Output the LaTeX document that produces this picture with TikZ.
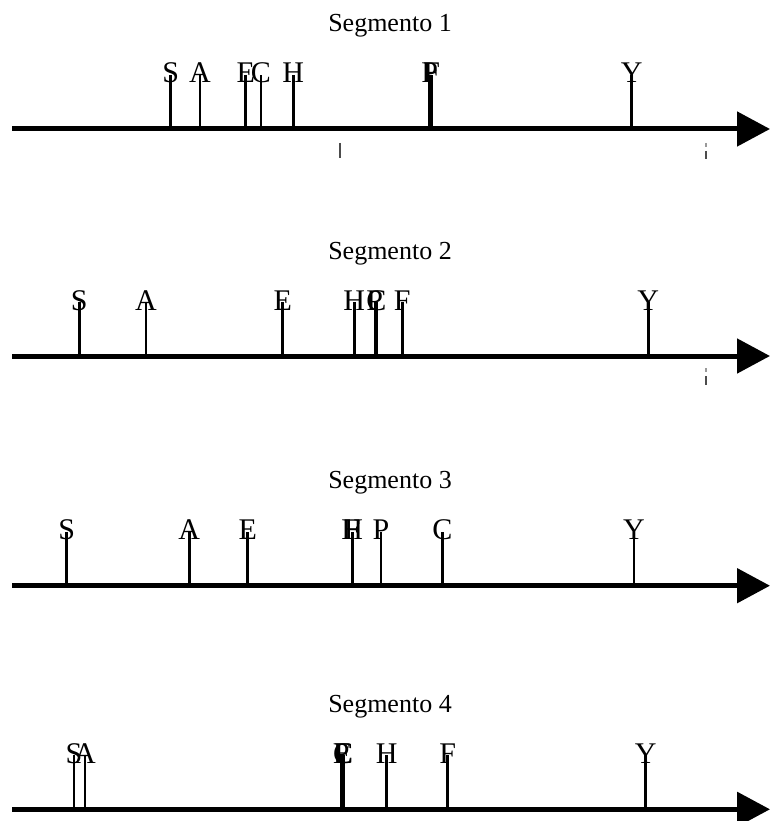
\documentclass[tikz,border=0pt]{standalone}
\usepackage{fontspec}
\setmainfont{Liberation Serif}
\usetikzlibrary{arrows.meta}
\tikzset{
  axisline/.style={line width=5pt,-{Triangle[length=33pt,width=34pt]}},
  tickline/.style={line width=2.5pt},
  ticklabel/.style={anchor=base,inner sep=0pt,font=\fontsize{30}{34}\selectfont},
  segtitle/.style={anchor=base,inner sep=0pt,font=\fontsize{26}{30}\selectfont},
  speck/.style={line width=1.6pt,black!70}
}
\newcommand{\segaxis}[3]{% #1 name, #2 y, #3 title
  \coordinate (#1s) at (12,#2);
  \coordinate (#1e) at (770,#2);
  \draw[axisline] (#1s) -- (#1e);
  \node[segtitle] (#1t) at (390,#2-97) {#3};
}
\newcommand{\segtick}[4]{% #1 name, #2 x, #3 axis y, #4 label
  \coordinate (#1b) at (#2,#3);
  \coordinate (#1u) at (#2,#3-54);
  \draw[tickline] (#1b) -- (#1u);
  \node[ticklabel] (#1l) at (#2,#3-46) {#4};
}
\begin{document}
\begin{tikzpicture}[x=1pt,y=-1pt]
\useasboundingbox (0,0) rectangle (770,821);
% Segment 1
\segaxis{a}{129}{Segmento 1}
\segtick{aS}{170.7}{129}{S}
\segtick{aA}{200}{129}{A}
\segtick{aE}{245.7}{129}{E}
\segtick{aC}{261}{129}{C}
\segtick{aH}{293.3}{129}{H}
\segtick{aP}{429.6}{129}{P}
\segtick{aF}{431.6}{129}{F}
\segtick{aY}{631.7}{129}{Y}
\draw[speck] (340,143) -- (340,158);
\draw[speck,black!40] (706,143) -- (706,147);
\draw[speck] (706,151) -- (706,159);
% Segment 2
\segaxis{b}{356}{Segmento 2}
\segtick{bS}{79.3}{356}{S}
\segtick{bA}{146}{356}{A}
\segtick{bE}{282.7}{356}{E}
\segtick{bH}{354.3}{356}{H}
\segtick{bP}{374.8}{356}{P}
\segtick{bC}{376.3}{356}{C}
\segtick{bF}{402.3}{356}{F}
\segtick{bY}{648.3}{356}{Y}
\draw[speck,black!40] (706,368) -- (706,372);
\draw[speck] (706,376) -- (706,385);
% Segment 3
\segaxis{c}{585.7}{Segmento 3}
\segtick{cS}{66.7}{585.7}{S}
\segtick{cA}{189.3}{585.7}{A}
\segtick{cE}{247.7}{585.7}{E}
\segtick{cH}{352.3}{585.7}{H}
\segtick{cF}{352.3}{585.7}{F}
\segtick{cP}{381}{585.7}{P}
\segtick{cC}{442.3}{585.7}{C}
\segtick{cY}{634}{585.7}{Y}
% Segment 4
\segaxis{d}{809.3}{Segmento 4}
\segtick{dS}{74}{809.3}{S}
\segtick{dA}{85}{809.3}{A}
\segtick{dP}{341.3}{809.3}{P}
\segtick{dE}{343.3}{809.3}{E}
\segtick{dC}{343}{809.3}{C}
\segtick{dH}{386.7}{809.3}{H}
\segtick{dF}{447.7}{809.3}{F}
\segtick{dY}{645.7}{809.3}{Y}
\end{tikzpicture}
\end{document}
